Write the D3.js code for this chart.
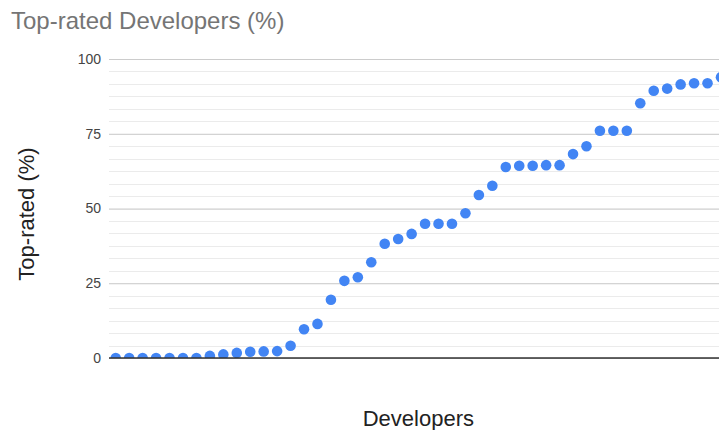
<!DOCTYPE html>
<html>
<head>
<meta charset="utf-8">
<script src="https://cdn.jsdelivr.net/npm/d3@7"></script>
<style>
    body { margin: 0; overflow: hidden; background: #fff; }
    text { font-family: Arial, "Liberation Sans", sans-serif; }
</style>
</head>
<body>
<script>
//数据
var topRated = [0, 0, 0, 0, 0, 0, 0, 0.7, 1.2, 1.7, 2.1, 2.2, 2.3, 4.1, 9.6,
    11.4, 19.5, 25.8, 27.0, 32.0, 38.2, 39.8, 41.5, 44.9, 44.9, 44.9, 48.4, 54.5, 57.6, 63.9,
    64.3, 64.3, 64.5, 64.5, 68.2, 70.8, 76.0, 76.0, 76.0, 85.2, 89.4, 90.1, 91.5, 91.9, 91.9, 93.9];
var developers = topRated.map(function (d, i) { return "Developer " + (i + 1); });
var yTicks = [0, 25, 50, 75, 100];
var minorTicks = d3.range(0, 100.001, 25 / 6);

var width = 740, height = 430;
var plotLeft = 109, plotTop = 59, plotBottom = 358;
var step = 13.45;
var plotRight = plotLeft + developers.length * step;

var svg = d3.select("body").append("svg").attr("width", width).attr("height", height);

var x = d3.scaleBand().domain(developers).range([plotLeft, plotRight]);
var y = d3.scaleLinear().domain([0, 100]).range([plotBottom, plotTop]);

//网格线
svg.append("g").selectAll("line").data(minorTicks).enter().append("line")
    .attr("x1", plotLeft).attr("x2", plotRight)
    .attr("y1", function (d) { return Math.round(y(d)) + 0.5; })
    .attr("y2", function (d) { return Math.round(y(d)) + 0.5; })
    .style("stroke", "#ebebeb").style("stroke-width", 1);

var yAxis = svg.append("g").attr("transform", "translate(" + plotLeft + ",0)")
    .call(d3.axisLeft(y).tickValues(yTicks).tickSize(-(plotRight - plotLeft)).tickPadding(8));
yAxis.select(".domain").remove();
yAxis.selectAll(".tick line").style("stroke", "#cccccc");
yAxis.selectAll(".tick text").style("font-size", "14px").style("fill", "#444")
    .style("font-family", "Arial, 'Liberation Sans', sans-serif");

//圆点
svg.append("clipPath").attr("id", "plot").append("rect")
    .attr("x", plotLeft).attr("y", plotTop - 8).attr("width", plotRight - plotLeft + 10).attr("height", plotBottom - plotTop + 8);
svg.append("g").attr("clip-path", "url(#plot)")
    .selectAll("circle").data(topRated).enter().append("circle")
    .attr("cx", function (d, i) { return x(developers[i]) + x.bandwidth() / 2; })
    .attr("cy", function (d) { return y(d); })
    .attr("r", 5.3)
    .style("fill", "#4285f4");

//基线
svg.append("line").attr("x1", plotLeft).attr("x2", plotRight)
    .attr("y1", y(0)).attr("y2", y(0))
    .style("stroke", "#333").style("stroke-width", 1.3);

//标题
svg.append("text").attr("x", 11).attr("y", 29)
    .text("Top-rated Developers (%)")
    .style("font-size", "24px").style("fill", "#757575");
svg.append("text").attr("x", (plotLeft + plotRight) / 2).attr("y", 426)
    .attr("text-anchor", "middle")
    .text("Developers")
    .style("font-size", "22px").style("fill", "#222");
svg.append("text").attr("transform", "translate(34,214) rotate(-90)")
    .attr("text-anchor", "middle")
    .text("Top-rated (%)")
    .style("font-size", "22px").style("fill", "#222");
</script>
</body>
</html>
